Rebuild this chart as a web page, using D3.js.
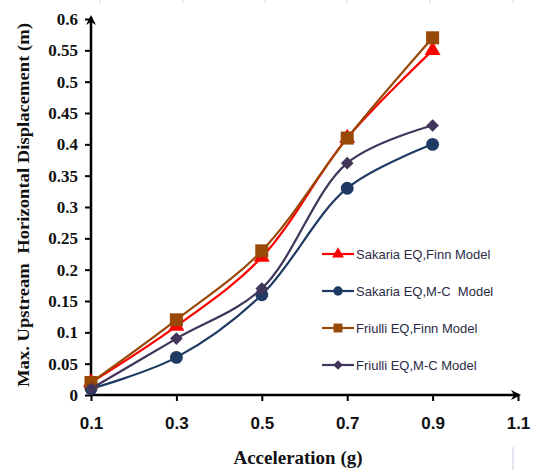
<!DOCTYPE html>
<html>
<head>
<meta charset="utf-8">
<script src="https://cdn.jsdelivr.net/npm/d3@7"></script>
<style>
  body { margin: 0; background: #fff; }
  svg { display: block; }
</style>
</head>
<body>
<div id="chart"></div>
<script>
// values
const accel = [0.1, 0.3, 0.5, 0.7, 0.9];
const sakariaFinn = [0.02, 0.11, 0.22, 0.41, 0.55];
const sakariaMC = [0.01, 0.06, 0.16, 0.33, 0.40];
const friulliFinn = [0.02, 0.12, 0.23, 0.41, 0.57];
const friulliMC = [0.01, 0.09, 0.17, 0.37, 0.43];

const xTicks = [0.1, 0.3, 0.5, 0.7, 0.9, 1.1];
const yTicks = d3.range(0, 13).map(i => +(i * 0.05).toFixed(2));

const seriesNames = [
  'Sakaria EQ,Finn Model',
  'Sakaria EQ,M-C  Model',
  'Friulli EQ,Finn Model',
  'Friulli EQ,M-C Model',
];

// square turned by 45 degrees, like the Excel diamond marker
const diamond = {
  draw(context, size) {
    const r = Math.sqrt(size / 2);
    context.moveTo(0, -r);
    context.lineTo(r, 0);
    context.lineTo(0, r);
    context.lineTo(-r, 0);
    context.closePath();
  },
};

const series = [
  { name: seriesNames[0], values: sakariaFinn, color: '#ff0000', symbol: d3.symbolTriangle, size: 110, lsize: 60 },
  { name: seriesNames[1], values: sakariaMC, color: '#1f3b63', symbol: d3.symbolCircle, size: 130, lsize: 70 },
  { name: seriesNames[2], values: friulliFinn, color: '#984807', symbol: d3.symbolSquare, size: 170, lsize: 80 },
  { name: seriesNames[3], values: friulliMC, color: '#41355a', symbol: diamond, size: 80, lsize: 45 },
];

const width = 537;
const height = 470;

const svg = d3.select('#chart').append('svg')
  .attr('width', width)
  .attr('height', height);

svg.append('rect')
  .attr('width', width)
  .attr('height', height)
  .attr('fill', '#fff');

// faint page artefacts of the scan
svg.selectAll('.artefact')
  .data([100, 183, 265, 347, 430, 513])
  .enter().append('line')
  .attr('x1', d => d).attr('x2', d => d)
  .attr('y1', 0).attr('y2', 3)
  .attr('stroke', '#cfd6e4')
  .attr('stroke-width', 1);
svg.append('line')
  .attr('x1', 513).attr('x2', 513)
  .attr('y1', 447).attr('y2', 470)
  .attr('stroke', '#c4cde0')
  .attr('stroke-width', 1);

const x = d3.scaleLinear()
  .domain([0.1, 1.1])
  .range([91, 518]);

const y = d3.scaleLinear()
  .domain([0, 0.6])
  .range([395, 19]);

const defs = svg.append('defs');
defs.append('marker')
  .attr('id', 'arrow')
  .attr('viewBox', '0 0 10 10')
  .attr('refX', 8)
  .attr('refY', 5)
  .attr('markerWidth', 4)
  .attr('markerHeight', 4)
  .attr('orient', 'auto')
  .append('path')
  .attr('d', 'M0,0L10,5L0,10L3,5Z')
  .attr('fill', '#000');

// axes
const xAxis = d3.axisBottom(x)
  .tickValues(xTicks)
  .tickSize(6)
  .tickPadding(16)
  .tickFormat(d3.format('.1f'));

const gx = svg.append('g')
  .attr('transform', `translate(0,${y(0)})`)
  .call(xAxis);
gx.select('.domain').remove();
gx.selectAll('line').attr('stroke', '#000').attr('stroke-width', 2);
gx.selectAll('text')
  .attr('font-family', '"Liberation Sans", Arial, sans-serif')
  .attr('font-weight', 'bold')
  .attr('font-size', 17)
  .attr('fill', '#111');

const yAxis = d3.axisLeft(y)
  .tickValues(yTicks)
  .tickSize(6)
  .tickPadding(7)
  .tickFormat(d => d === 0 ? '0' : String(d));

const gy = svg.append('g')
  .attr('transform', `translate(${x(0.1)},0)`)
  .call(yAxis);
gy.select('.domain').remove();
gy.selectAll('line').attr('stroke', '#000').attr('stroke-width', 2);
gy.selectAll('text')
  .attr('font-family', '"Liberation Serif", "Times New Roman", serif')
  .attr('font-weight', 'bold')
  .attr('font-size', 17)
  .attr('fill', '#111');

svg.append('line')
  .attr('x1', x(0.1)).attr('x2', x(1.1) + 1)
  .attr('y1', y(0)).attr('y2', y(0))
  .attr('stroke', '#000')
  .attr('stroke-width', 2.5)
  .attr('marker-end', 'url(#arrow)');

svg.append('line')
  .attr('x1', x(0.1)).attr('x2', x(0.1))
  .attr('y1', y(0) + 1).attr('y2', y(0.6) - 2)
  .attr('stroke', '#000')
  .attr('stroke-width', 2.5)
  .attr('marker-end', 'url(#arrow)');

// axis titles
svg.append('text')
  .attr('x', 298)
  .attr('y', 464)
  .attr('text-anchor', 'middle')
  .attr('font-family', '"Liberation Serif", "Times New Roman", serif')
  .attr('font-weight', 'bold')
  .attr('font-size', 18)
  .attr('fill', '#111')
  .attr('textLength', 129)
  .attr('lengthAdjust', 'spacingAndGlyphs')
  .text('Acceleration (g)');

svg.append('text')
  .attr('transform', 'translate(29,205) rotate(-90)')
  .attr('text-anchor', 'middle')
  .attr('font-family', '"Liberation Serif", "Times New Roman", serif')
  .attr('font-weight', 'bold')
  .attr('font-size', 17.5)
  .attr('fill', '#111')
  .attr('textLength', 364)
  .attr('lengthAdjust', 'spacingAndGlyphs')
  .style('white-space', 'pre')
  .text('Max. Upstream  Horizontal Displacement (m)');

// series
const line = d3.line()
  .x((d, i) => x(accel[i]))
  .y(d => y(d))
  .curve(d3.curveCatmullRom.alpha(0.5));

series.forEach(s => {
  const g = svg.append('g').attr('class', 'series');
  g.append('path')
    .attr('d', line(s.values))
    .attr('fill', 'none')
    .attr('stroke', s.color)
    .attr('stroke-width', 2.2);
  g.selectAll('path.pt')
    .data(s.values)
    .enter().append('path')
    .attr('class', 'pt')
    .attr('transform', (d, i) => `translate(${x(accel[i])},${y(d)})`)
    .attr('d', d3.symbol().type(s.symbol).size(s.size))
    .attr('fill', s.color);
});

// legend
const legend = svg.append('g')
  .attr('transform', 'translate(322,254)');

const items = legend.selectAll('g')
  .data(series)
  .enter().append('g')
  .attr('transform', (d, i) => `translate(0,${i * 37})`);

items.append('line')
  .attr('x1', 0).attr('x2', 32)
  .attr('y1', 0).attr('y2', 0)
  .attr('stroke', d => d.color)
  .attr('stroke-width', 2.2);

items.append('path')
  .attr('transform', 'translate(16,0)')
  .attr('d', d => d3.symbol().type(d.symbol).size(d.lsize)())
  .attr('fill', d => d.color);

items.append('text')
  .attr('x', 34)
  .attr('y', 0)
  .attr('dy', '0.35em')
  .attr('font-family', '"Liberation Sans", Arial, sans-serif')
  .attr('font-size', 13)
  .attr('fill', '#2b2b45')
  .style('white-space', 'pre')
  .text(d => d.name);
</script>
</body>
</html>
